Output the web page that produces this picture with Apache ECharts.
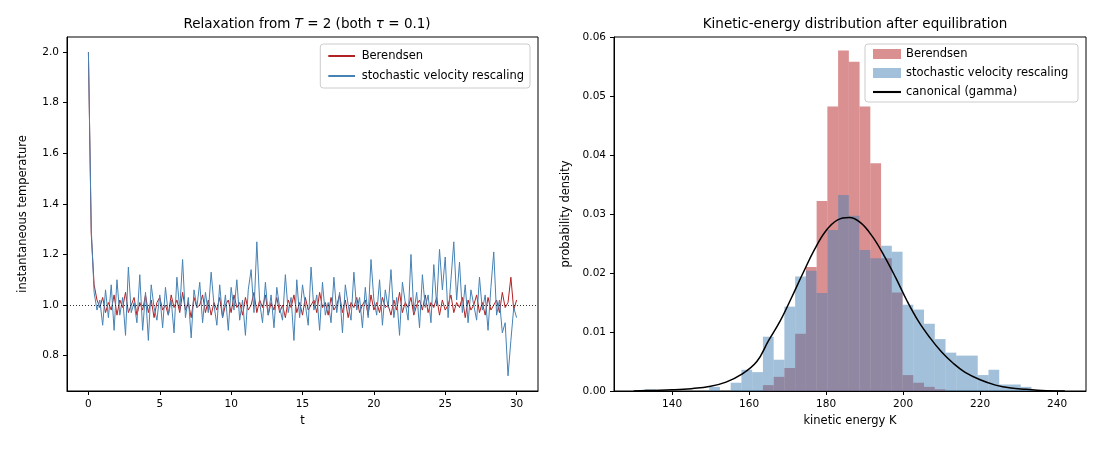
<!DOCTYPE html>
<html>
<head>
<meta charset="utf-8" />
<title>Thermostats</title>
<script src="https://cdn.jsdelivr.net/npm/echarts@6.0.0/dist/echarts.min.js"></script>
<style>
  html, body { margin: 0; padding: 0; background: #fff; }
  #main { width: 1100px; height: 450px; }
</style>
</head>
<body>
<div id="main"></div>
<script>
// ---- left panel: instantaneous temperature, sampled every 0.2 time units ----
var dt = 0.2;
var berendsen = [
  2.00,1.28,1.08,1.02,0.99,1.03,0.97,1.01,0.98,1.04,
  0.96,1.02,0.99,1.05,0.97,1.00,1.03,0.96,1.01,0.98,
  1.04,0.97,1.02,0.95,1.01,1.03,0.98,1.00,0.96,1.04,
  0.99,1.02,0.97,1.05,0.98,1.01,0.95,1.03,0.99,1.00,
  1.04,0.97,1.02,0.96,1.01,0.98,1.03,0.95,1.00,1.02,
  0.97,1.04,0.99,1.01,0.96,1.03,0.98,1.00,1.05,0.97,
  1.02,0.99,1.04,0.96,1.01,0.98,1.03,0.97,1.00,0.95,
  1.02,0.99,1.04,0.97,1.01,0.96,1.03,0.98,1.00,1.02,
  0.97,1.05,0.99,1.01,0.96,1.03,0.98,1.00,1.04,0.97,
  1.02,0.95,1.01,0.99,1.03,0.97,1.00,1.02,0.96,1.04,
  0.98,1.01,0.97,1.03,0.99,1.00,0.96,1.02,0.98,1.05,
  0.97,1.01,0.99,1.03,0.96,1.00,1.02,0.98,1.04,0.97,
  1.01,0.99,1.03,0.96,1.02,0.98,1.00,1.04,0.97,1.01,
  0.99,1.03,0.95,1.02,0.98,1.00,1.04,0.97,1.01,0.96,
  1.03,0.98,1.00,1.02,0.97,1.05,0.99,1.01,1.11,0.98,
  1.02
];
var svr = [
  2.00,1.30,1.05,0.98,1.02,0.92,1.06,0.95,1.08,0.90,
  1.10,0.96,1.03,0.88,1.15,0.97,1.01,0.93,1.12,0.90,
  1.05,0.86,1.08,0.99,0.94,1.04,0.91,1.07,0.96,1.02,
  0.89,1.11,0.98,1.18,0.95,1.03,0.87,1.06,0.99,1.09,
  0.93,1.05,0.97,1.13,1.00,0.92,1.08,0.95,1.04,0.90,
  1.07,0.98,1.10,0.94,1.02,0.88,1.06,1.14,0.97,1.25,
  1.01,0.93,1.09,0.96,1.04,0.91,1.07,0.99,0.94,1.12,
  0.97,1.03,0.86,1.10,0.95,1.08,1.00,0.92,1.15,0.98,
  1.04,0.90,1.09,0.96,1.01,0.93,1.11,0.97,1.05,0.89,
  1.08,1.00,0.94,1.13,0.98,1.03,0.91,1.07,0.95,1.18,
  1.02,0.96,1.10,0.92,1.06,0.99,1.14,0.95,1.03,0.88,
  1.09,1.01,0.94,1.20,0.97,1.05,0.91,1.12,0.99,1.04,
  0.93,1.16,1.00,1.22,1.06,1.19,0.95,1.10,1.25,1.02,
  1.17,0.97,1.08,0.93,1.06,1.00,0.94,1.11,0.98,1.04,
  0.90,1.07,1.21,0.96,1.02,0.89,0.93,0.72,0.86,0.99,
  0.95
];
var tTicks = [0, 5, 10, 15, 20, 25, 30];
var tempTicks = [0.8, 1.0, 1.2, 1.4, 1.6, 1.8, 2.0];

// ---- right panel: histograms of kinetic energy ----
var binStart = 130.1;
var binWidth = 2.79;
var berendsenHist = [
  0,0,0,0,0,0,0,0,0,0,
  0,0,0.0010,0.0024,0.0039,0.0097,0.0210,0.0322,0.0482,0.0577,
  0.0558,0.0482,0.0386,0.0225,0.0167,0.0027,0.0014,0.0007,0.0003,0,
  0,0,0,0,0,0,0
];
var svrHist = [
  0.0001,0.0003,0,0,0,0,0,0.0007,0,0.0014,
  0.0036,0.0032,0.0092,0.0053,0.0143,0.0194,0.0204,0.0166,0.0273,0.0332,
  0.0297,0.0239,0.0225,0.0246,0.0236,0.0146,0.0138,0.0114,0.0088,0.0065,
  0.0060,0.0060,0.0027,0.0036,0.0011,0.0011,0.0007
];
var gammaK = [130,135,140,145,150,154,158,162,165,168,171,174,177,180,183,186,189,192,195,198,201,204,207,210,213,216,220,224,228,232,236,242];
var gammaP = [0.0000,0.0001,0.0002,0.0004,0.0008,0.0015,0.0028,0.0050,0.0085,0.0118,0.0158,0.0200,0.0240,0.0272,0.0290,0.0294,0.0285,0.0262,0.0230,0.0193,0.0153,0.0118,0.0090,0.0066,0.0047,0.0032,0.0019,0.0010,0.0005,0.0003,0.0001,0.0000];
var kTicks = [140, 160, 180, 200, 220, 240];

function series2d(xs, ys) {
  return ys.map(function (v, i) { return [xs[i], v]; });
}
var times = berendsen.map(function (v, i) { return +(i * dt).toFixed(2); });
function bins(h) {
  return h.map(function (v, i) {
    return [binStart + i * binWidth, binStart + (i + 1) * binWidth, v];
  }).filter(function (d) { return d[2] > 0; });
}
function renderBar(params, api) {
  var p0 = api.coord([api.value(0), api.value(2)]);
  var p1 = api.coord([api.value(1), 0]);
  return {
    type: 'rect',
    shape: { x: p0[0], y: p0[1], width: p1[0] - p0[0], height: p1[1] - p0[1] },
    style: { fill: api.visual('color') }
  };
}

var RED = '#b22222', BLUE = '#4682b4';
var HRED = 'rgba(193,68,70,0.6)', HBLUE = 'rgba(70,130,180,0.5)';
var font = 'DejaVu Sans';
var axisCommon = {
  axisLine: { onZero: false, lineStyle: { color: '#000', width: 1 } },
  axisTick: { length: 4, lineStyle: { color: '#000' } },
  axisLabel: { color: '#000', fontSize: 10.5, fontFamily: font },
  splitLine: { show: false },
  nameTextStyle: { color: '#000', fontSize: 11.5, fontFamily: font }
};
function ax(o) { return Object.assign({}, JSON.parse(JSON.stringify(axisCommon)), o); }

var chart = echarts.init(document.getElementById('main'));
var lineIcon = 'path://M0,0 L40,0 L40,3 L0,3 Z';
var legendText = { fontSize: 11.5, fontFamily: font, color: '#000' };
chart.setOption({
  animation: false,
  textStyle: { fontFamily: font },
  title: [
    { text: '{n|Relaxation from }{i|T}{n| = 2 (both }{i|τ}{n| = 0.1)}', left: 302, top: 12, textAlign: 'center',
      textStyle: { fontWeight: 'normal', rich: {
        n: { fontSize: 13.5, fontWeight: 'normal', fontFamily: font, color: '#000' },
        i: { fontSize: 13.5, fontWeight: 'normal', fontStyle: 'italic', fontFamily: font, color: '#000' } } } },
    { text: 'Kinetic-energy distribution after equilibration', left: 850, top: 12, textAlign: 'center',
      textStyle: { fontSize: 13.5, fontWeight: 'normal', fontFamily: font, color: '#000' } }
  ],
  legend: [
    { data: ['Berendsen', 'stochastic velocity rescaling'].map(function (n) { return { name: n, icon: lineIcon }; }),
      orient: 'vertical', right: 570, top: 44, itemWidth: 30, itemHeight: 2, itemGap: 8,
      padding: [6, 6, 6, 8], borderColor: '#ccc', borderWidth: 1, borderRadius: 3, backgroundColor: 'rgba(255,255,255,0.8)',
      textStyle: legendText },
    { data: [{ name: 'Berendsen ', icon: 'rect' }, { name: 'stochastic velocity rescaling ', icon: 'rect' }, { name: 'canonical (gamma)', icon: lineIcon }],
      orient: 'vertical', right: 22, top: 44, itemWidth: 28, itemHeight: 10, itemGap: 7,
      padding: [4, 6, 4, 8], borderColor: '#ccc', borderWidth: 1, borderRadius: 3, backgroundColor: 'rgba(255,255,255,0.8)',
      textStyle: legendText }
  ],
  grid: [
    { left: 67, right: 562, top: 37, bottom: 59, show: true, borderColor: '#000', borderWidth: 1 },
    { left: 614, right: 14, top: 37, bottom: 59, show: true, borderColor: '#000', borderWidth: 1 }
  ],
  xAxis: [
    ax({ type: 'value', gridIndex: 0, min: -1.5, max: 31.5, name: 't', nameLocation: 'middle', nameGap: 22,
      axisLabel: Object.assign({}, axisCommon.axisLabel, { customValues: tTicks }),
      axisTick: Object.assign({}, axisCommon.axisTick, { customValues: tTicks }) }),
    ax({ type: 'value', gridIndex: 1, min: 124.9, max: 247.5, name: 'kinetic energy K', nameLocation: 'middle', nameGap: 22,
      axisLabel: Object.assign({}, axisCommon.axisLabel, { customValues: kTicks }),
      axisTick: Object.assign({}, axisCommon.axisTick, { customValues: kTicks }) })
  ],
  yAxis: [
    ax({ type: 'value', gridIndex: 0, min: 0.66, max: 2.06, name: 'instantaneous temperature', nameLocation: 'middle', nameGap: 38,
      axisLabel: Object.assign({}, axisCommon.axisLabel, { customValues: tempTicks, formatter: function (v) { return v.toFixed(1); } }),
      axisTick: Object.assign({}, axisCommon.axisTick, { customValues: tempTicks }) }),
    ax({ type: 'value', gridIndex: 1, min: 0, max: 0.06, interval: 0.01, name: 'probability density', nameLocation: 'middle', nameGap: 42,
      axisLabel: Object.assign({}, axisCommon.axisLabel, { formatter: function (v) { return v.toFixed(2); } }) })
  ],
  series: [
    { name: 'Berendsen', type: 'line', xAxisIndex: 0, yAxisIndex: 0, data: series2d(times, berendsen),
      symbol: 'none', color: RED, lineStyle: { width: 1, color: RED }, z: 2,
      markLine: { silent: true, symbol: 'none', label: { show: false },
        lineStyle: { color: '#000', type: [1, 2], width: 0.8 }, data: [{ yAxis: 1.0 }] } },
    { name: 'stochastic velocity rescaling', type: 'line', xAxisIndex: 0, yAxisIndex: 0, data: series2d(times, svr),
      symbol: 'none', color: BLUE, lineStyle: { width: 1, color: BLUE }, z: 3 },
    { name: 'Berendsen ', type: 'custom', xAxisIndex: 1, yAxisIndex: 1, renderItem: renderBar,
      encode: { x: [0, 1], y: 2 }, data: bins(berendsenHist), color: HRED, itemStyle: { color: HRED } },
    { name: 'stochastic velocity rescaling ', type: 'custom', xAxisIndex: 1, yAxisIndex: 1, renderItem: renderBar,
      encode: { x: [0, 1], y: 2 }, data: bins(svrHist), color: HBLUE, itemStyle: { color: HBLUE } },
    { name: 'canonical (gamma)', type: 'line', xAxisIndex: 1, yAxisIndex: 1, data: series2d(gammaK, gammaP),
      smooth: 0.4, symbol: 'none', color: '#000', lineStyle: { width: 1.5, color: '#000' }, z: 5 }
  ]
});
</script>
</body>
</html>
